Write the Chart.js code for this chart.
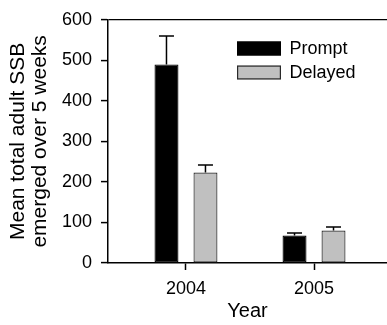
<!DOCTYPE html>
<html>
<head>
<meta charset="utf-8">
<script src="https://cdn.jsdelivr.net/npm/chart.js@4.4.1/dist/chart.umd.min.js"></script>
<style>
  html, body { margin: 0; padding: 0; background: #fff; }
  #wrap { width: 387px; height: 325px; }
</style>
</head>
<body>
<div id="wrap"><canvas id="c" width="387" height="325"></canvas></div>
<script>
const categories = ['2004', '2005'];
const seriesNames = ['Prompt', 'Delayed'];
const promptMeans = [490, 68];
const promptSE = [70, 6];
const delayedMeans = [223, 80];
const delayedSE = [19, 9];
const yTicks = [0, 100, 200, 300, 400, 500, 600];

const FONT = 'Liberation Sans, Arial, Helvetica, sans-serif';

const errorBarPlugin = {
  id: 'errorBars',
  afterDatasetsDraw(chart) {
    const ctx = chart.ctx;
    const yScale = chart.scales.y;
    chart.data.datasets.forEach((ds, di) => {
      const meta = chart.getDatasetMeta(di);
      meta.data.forEach((bar, i) => {
        const v = ds.data[i].y;
        const top = yScale.getPixelForValue(v + ds.errors[i]);
        const base = yScale.getPixelForValue(v);
        ctx.save();
        ctx.strokeStyle = '#000';
        ctx.lineWidth = 1.5;
        ctx.beginPath();
        ctx.moveTo(bar.x, base);
        ctx.lineTo(bar.x, top);
        ctx.moveTo(bar.x - 7.5, top);
        ctx.lineTo(bar.x + 7.5, top);
        ctx.stroke();
        ctx.restore();
      });
    });
  }
};

const legendPlugin = {
  id: 'insideLegend',
  afterDraw(chart) {
    const ctx = chart.ctx;
    const x0 = 237, y0 = 41.5, bw = 44, bh = 14, gap = 24;
    chart.data.datasets.forEach((ds, i) => {
      const y = y0 + i * gap;
      ctx.save();
      ctx.fillStyle = ds.backgroundColor;
      ctx.fillRect(x0, y, bw, bh);
      ctx.strokeStyle = ds.borderColor;
      ctx.lineWidth = 1.2;
      ctx.strokeRect(x0 + 0.6, y + 0.6, bw - 1.2, bh - 1.2);
      ctx.fillStyle = '#000';
      ctx.font = '18px ' + FONT;
      ctx.textAlign = 'left';
      ctx.textBaseline = 'middle';
      ctx.fillText(ds.label, 289.5, y + bh / 2 + 0.5);
      ctx.restore();
    });
  }
};

new Chart(document.getElementById('c'), {
  type: 'bar',
  data: {
    datasets: [
      {
        label: seriesNames[0],
        data: promptMeans.map((v, i) => ({ x: i, y: v })),
        errors: promptSE,
        backgroundColor: '#000000',
        borderColor: '#000000',
        borderWidth: 1.2,
        borderSkipped: false,
        categoryPercentage: 0.609,
        barPercentage: 0.615
      },
      {
        label: seriesNames[1],
        data: delayedMeans.map((v, i) => ({ x: i, y: v })),
        errors: delayedSE,
        backgroundColor: '#c0c0c0',
        borderColor: '#2a2a2a',
        borderWidth: 1.2,
        borderSkipped: false,
        categoryPercentage: 0.609,
        barPercentage: 0.615
      }
    ]
  },
  options: {
    responsive: false,
    animation: false,
    devicePixelRatio: 1,
    layout: { padding: { top: 16, right: 0, left: 0, bottom: 0 } },
    plugins: {
      legend: { display: false },
      tooltip: { enabled: false }
    },
    scales: {
      x: {
        type: 'linear',
        offset: false,
        min: -0.609,
        max: 1.570,
        afterBuildTicks(scale) {
          scale.ticks = categories.map((c, i) => ({ value: i }));
        },
        afterFit(scale) { scale.height = 62; },
        ticks: {
          callback: (v) => categories[v],
          font: { family: FONT, size: 18 },
          color: '#000',
          padding: 8,
          maxRotation: 0,
          autoSkip: false
        },
        grid: {
          display: true,
          offset: false,
          drawOnChartArea: false,
          drawTicks: true,
          tickLength: 7,
          tickColor: '#000',
          tickWidth: 1.5
        },
        border: { display: true, color: '#000', width: 1.5 },
        title: {
          display: true,
          text: 'Year',
          font: { family: FONT, size: 20 },
          color: '#000',
          padding: { top: 0, bottom: 2 }
        }
      },
      y: {
        min: 0,
        max: 600,
        afterBuildTicks(scale) {
          scale.ticks = yTicks.map(v => ({ value: v }));
        },
        afterFit(scale) { scale.width = 108; },
        ticks: {
          font: { family: FONT, size: 18 },
          color: '#000',
          padding: 9
        },
        grid: {
          color: (c) => (c.tick && c.tick.value === 600) ? '#000' : 'rgba(0,0,0,0)',
          lineWidth: 1.2,
          drawTicks: true,
          tickLength: 7,
          tickColor: '#000',
          tickWidth: 1.5
        },
        border: { display: true, color: '#000', width: 1.5 },
        title: {
          display: true,
          text: ['Mean total adult SSB', 'emerged over 5 weeks'],
          font: { family: FONT, size: 21, lineHeight: 1.05 },
          color: '#000',
          padding: { top: 7, bottom: 0 }
        }
      }
    }
  },
  plugins: [errorBarPlugin, legendPlugin]
});
</script>
</body>
</html>
